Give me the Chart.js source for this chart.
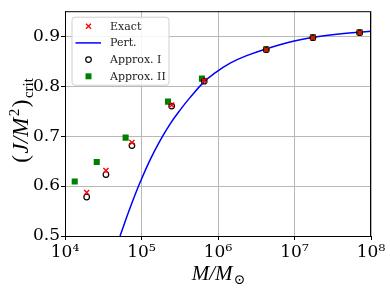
<!DOCTYPE html>
<html>
<head>
<meta charset="utf-8">
<script src="https://cdn.jsdelivr.net/npm/chart.js@4.4.0/dist/chart.umd.min.js"></script>
<style>
  html, body { margin: 0; padding: 0; background: #fff; }
  #wrap { width: 390px; height: 291px; }
</style>
</head>
<body>
<div id="wrap"><canvas id="crit" width="390" height="291"></canvas></div>
<script>
// values
var massExact = [1.92e4, 3.43e4, 7.5e4, 2.48e5, 6.6e5, 4.27e6, 1.74e7, 7.1e7];
var jExact = [0.587, 0.631, 0.687, 0.762, 0.811, 0.873, 0.897, 0.907];

var massApprox1 = [1.92e4, 3.43e4, 7.5e4, 2.48e5, 6.6e5, 4.27e6, 1.74e7, 7.1e7];
var jApprox1 = [0.578, 0.623, 0.681, 0.760, 0.810, 0.873, 0.897, 0.907];

var massApprox2 = [1.34e4, 2.6e4, 6.2e4, 2.22e5, 6.17e5, 4.27e6, 1.74e7, 7.1e7];
var jApprox2 = [0.609, 0.648, 0.697, 0.769, 0.815, 0.874, 0.898, 0.908];

var massPert = [5.24e4, 7.08e4, 9.5e4, 1.29e5, 1.75e5, 2.36e5, 3.19e5, 4.3e5, 6.6e5, 8.7e5, 1.44e6, 2.37e6, 4.33e6, 9.6e6, 1.76e7, 3.56e7, 1e8];
var jPert = [0.5, 0.556, 0.606, 0.652, 0.691, 0.724, 0.752, 0.777, 0.809, 0.824, 0.846, 0.861, 0.875, 0.890, 0.898, 0.904, 0.910];

var xTicks = [1e4, 1e5, 1e6, 1e7, 1e8];
var yTicks = [0.5, 0.6, 0.7, 0.8, 0.9];
var legendLabels = ['Exact', 'Pert.', 'Approx. I', 'Approx. II'];

function pairs(xs, ys) {
    var out = [];
    for (var i = 0; i < xs.length; i++) {
        out.push({ x: xs[i], y: ys[i] });
    }
    return out;
}

var sup = { 4: '\u2074', 5: '\u2075', 6: '\u2076', 7: '\u2077', 8: '\u2078' };

// full box round the plot, like matplotlib spines
var framePlugin = {
    id: 'frame',
    afterDatasetsDraw: function (chart) {
        var a = chart.chartArea;
        var ctx = chart.ctx;
        ctx.save();
        ctx.strokeStyle = '#000';
        ctx.lineWidth = 1;
        ctx.strokeRect(a.left + 0.5, a.top + 0.5, a.right - a.left - 1, a.bottom - a.top);
        ctx.restore();
    }
};

// legend box inside the axes + axis titles with sub/superscripts
var extrasPlugin = {
    id: 'extras',
    afterDraw: function (chart) {
        var a = chart.chartArea;
        var ctx = chart.ctx;
        ctx.save();

        // legend frame
        var lx = a.left + 7, ly = a.top + 6, lw = 97, lh = 68, r = 3;
        ctx.beginPath();
        ctx.moveTo(lx + r, ly);
        ctx.arcTo(lx + lw, ly, lx + lw, ly + lh, r);
        ctx.arcTo(lx + lw, ly + lh, lx, ly + lh, r);
        ctx.arcTo(lx, ly + lh, lx, ly, r);
        ctx.arcTo(lx, ly, lx + lw, ly, r);
        ctx.closePath();
        ctx.fillStyle = 'rgba(255,255,255,0.85)';
        ctx.fill();
        ctx.strokeStyle = '#d0d0d0';
        ctx.lineWidth = 1;
        ctx.stroke();

        var mx = lx + 16.5;
        ctx.font = '11px "DejaVu Serif"';
        ctx.textBaseline = 'middle';
        ctx.textAlign = 'left';
        for (var i = 0; i < legendLabels.length; i++) {
            var yy = ly + 9 + i * 16.7;
            if (i === 0) {
                ctx.strokeStyle = 'red';
                ctx.lineWidth = 1.4;
                ctx.beginPath();
                ctx.moveTo(mx - 2.5, yy - 2.5); ctx.lineTo(mx + 2.5, yy + 2.5);
                ctx.moveTo(mx + 2.5, yy - 2.5); ctx.lineTo(mx - 2.5, yy + 2.5);
                ctx.stroke();
            } else if (i === 1) {
                ctx.strokeStyle = '#0000ff';
                ctx.lineWidth = 1.5;
                ctx.beginPath();
                ctx.moveTo(lx + 3.5, yy); ctx.lineTo(lx + 29, yy);
                ctx.stroke();
            } else if (i === 2) {
                ctx.strokeStyle = '#000';
                ctx.lineWidth = 1.2;
                ctx.beginPath();
                ctx.arc(mx, yy, 2.8, 0, Math.PI * 2);
                ctx.stroke();
            } else {
                ctx.fillStyle = 'green';
                ctx.fillRect(mx - 3, yy - 3, 6, 6);
            }
            ctx.fillStyle = '#222';
            ctx.fillText(legendLabels[i], lx + 38, yy + 0.5);
        }

        // x title: M/M_sun
        var big = 'italic 21px "Liberation Serif"';
        var small = '14px "DejaVu Serif"';
        ctx.fillStyle = '#000';
        ctx.textBaseline = 'alphabetic';
        ctx.font = big;
        var t1 = 'M/M';
        var w1 = ctx.measureText(t1).width;
        ctx.font = small;
        var w2 = ctx.measureText('\u2299').width;
        var cx = (a.left + a.right) / 2;
        var x0 = cx - (w1 + w2) / 2;
        ctx.font = big;
        ctx.fillText(t1, x0, 280);
        ctx.font = small;
        ctx.fillText('\u2299', x0 + w1 + 1, 284);

        // y title: (J/M^2)_crit, rotated
        var bigY = 'italic 23px "Liberation Serif"';
        ctx.translate(21, (a.top + a.bottom) / 2 - 4);
        ctx.rotate(-Math.PI / 2);
        var parts = [
            { t: '(', f: '23px "Liberation Serif"', dy: 0 },
            { t: 'J/M', f: bigY, dy: 0 },
            { t: '2', f: '15px "Liberation Serif"', dy: -9 },
            { t: ')', f: '23px "Liberation Serif"', dy: 0 },
            { t: 'crit', f: '15px "Liberation Serif"', dy: 5 }
        ];
        var total = 0;
        parts.forEach(function (p) { ctx.font = p.f; p.w = ctx.measureText(p.t).width; total += p.w + 1.5; });
        var px = -total / 2;
        parts.forEach(function (p) {
            ctx.font = p.f;
            ctx.fillText(p.t, px, 7 + p.dy);
            px += p.w + 1.5;
        });
        ctx.restore();
    }
};

var ctx = document.getElementById('crit').getContext('2d');
var chart = new Chart(ctx, {
    type: 'scatter',
    data: {
        datasets: [
            {
                label: 'Exact',
                data: pairs(massExact, jExact),
                pointStyle: 'crossRot',
                pointRadius: 3.6,
                borderColor: 'red',
                backgroundColor: 'red',
                pointBorderWidth: 1.4,
                order: 0
            },
            {
                label: 'Pert.',
                data: pairs(massPert, jPert),
                showLine: true,
                borderColor: '#0000ff',
                borderWidth: 1.5,
                pointRadius: 0,
                tension: 0.4,
                order: 3
            },
            {
                label: 'Approx. I',
                data: pairs(massApprox1, jApprox1),
                pointStyle: 'circle',
                pointRadius: 2.8,
                borderColor: '#000',
                backgroundColor: 'rgba(255,255,255,0)',
                pointBorderWidth: 1.2,
                order: 1
            },
            {
                label: 'Approx. II',
                data: pairs(massApprox2, jApprox2),
                pointStyle: 'rect',
                pointRadius: 4.3,
                borderColor: 'green',
                backgroundColor: 'green',
                pointBorderWidth: 0,
                order: 2
            }
        ]
    },
    options: {
        responsive: false,
        animation: false,
        devicePixelRatio: 1,
        layout: { padding: { top: 9, right: 19, left: 0, bottom: 0 } },
        plugins: {
            legend: { display: false },
            tooltip: { enabled: false }
        },
        scales: {
            x: {
                type: 'logarithmic',
                min: 1e4,
                max: 1e8,
                afterBuildTicks: function (scale) {
                    scale.ticks = xTicks.map(function (v) { return { value: v, major: true }; });
                },
                afterFit: function (scale) { scale.height = 55; },
                ticks: {
                    autoSkip: false,
                    maxRotation: 0,
                    padding: 2,
                    color: '#000',
                    font: { family: 'DejaVu Serif', size: 17 },
                    callback: function (v) { return '10' + sup[Math.round(Math.log10(v))]; }
                },
                grid: { color: '#b8b8b8', tickColor: '#000', tickLength: 4, lineWidth: 1 },
                border: { display: true, color: '#000' }
            },
            y: {
                min: 0.5,
                max: 0.95,
                afterBuildTicks: function (scale) {
                    scale.ticks = yTicks.map(function (v) { return { value: v }; });
                },
                afterFit: function (scale) { scale.width = 65; },
                ticks: {
                    padding: 1,
                    color: '#000',
                    font: { family: 'DejaVu Serif', size: 17 },
                    callback: function (v) { return v.toFixed(1); }
                },
                grid: { color: '#b8b8b8', tickColor: '#000', tickLength: 4, lineWidth: 1 },
                border: { display: true, color: '#000' }
            }
        }
    },
    plugins: [framePlugin, extrasPlugin]
});
</script>
</body>
</html>
